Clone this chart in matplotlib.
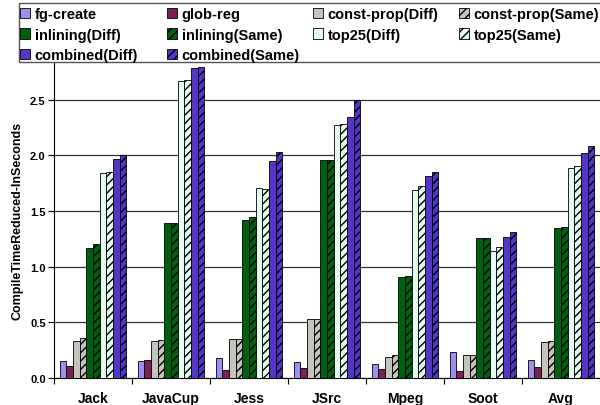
import matplotlib.pyplot as plt
from matplotlib.patches import Rectangle
import numpy as np

plt.rcParams['font.family'] = 'Liberation Sans'
plt.rcParams['font.weight'] = 'bold'
plt.rcParams['hatch.linewidth'] = 1.0

programs = ['Jack', 'JavaCup', 'Jess', 'JSrc', 'Mpeg', 'Soot', 'Avg']

fg_create = [0.15, 0.15, 0.18, 0.14, 0.13, 0.23, 0.165]
glob_reg = [0.11, 0.16, 0.075, 0.09, 0.08, 0.06, 0.10]
const_prop_diff = [0.33, 0.335, 0.35, 0.53, 0.19, 0.21, 0.32]
const_prop_same = [0.36, 0.34, 0.35, 0.53, 0.21, 0.21, 0.33]
inlining_diff = [1.17, 1.39, 1.42, 1.96, 0.91, 1.26, 1.35]
inlining_same = [1.20, 1.39, 1.45, 1.96, 0.92, 1.26, 1.36]
top25_diff = [1.84, 2.67, 1.71, 2.27, 1.69, 1.14, 1.885]
top25_same = [1.85, 2.68, 1.70, 2.28, 1.72, 1.18, 1.90]
combined_diff = [1.97, 2.78, 1.95, 2.34, 1.81, 1.27, 2.02]
combined_same = [2.00, 2.79, 2.03, 2.50, 1.85, 1.31, 2.08]

series = [
    ('fg-create', fg_create, '#9b8ff0', ''),
    ('glob-reg', glob_reg, '#7b1f55', ''),
    ('const-prop(Diff)', const_prop_diff, '#c4c4bc', ''),
    ('const-prop(Same)', const_prop_same, '#c4c4bc', '////'),
    ('inlining(Diff)', inlining_diff, '#006010', ''),
    ('inlining(Same)', inlining_same, '#006010', '////'),
    ('top25(Diff)', top25_diff, '#e2fdf0', ''),
    ('top25(Same)', top25_same, '#e2fdf0', '////'),
    ('combined(Diff)', combined_diff, '#5535c8', ''),
    ('combined(Same)', combined_same, '#5535c8', '////'),
]

W, H = 600, 406
fig = plt.figure(figsize=(W / 100, H / 100), dpi=100)
ax = fig.add_axes([0.09, 0.0665, 0.91, 0.778])

x = np.arange(len(programs))
w = 0.0855
handles = []
for i, (name, vals, color, hatch) in enumerate(series):
    b = ax.bar(x - 5 * w + (i + 0.5) * w, vals, w, color=color, hatch=hatch,
               edgecolor='black', linewidth=0.6, label=name, zorder=3)
    handles.append(b)

ax.set_xlim(-0.5, len(programs) - 0.5)
ax.set_ylim(0, 2.837)
ax.set_yticks(np.arange(0, 2.6, 0.5))
ax.set_yticklabels(['%.1f' % v for v in np.arange(0, 2.6, 0.5)], fontsize=8)
ax.yaxis.grid(True, color='#333333', linewidth=0.9, zorder=0)
ax.set_axisbelow(True)

ax.set_xticks(x)
ax.set_xticklabels(programs, fontsize=10)
ax.set_xticks(np.arange(-0.5, len(programs)), minor=True)
ax.tick_params(axis='x', which='major', length=0, pad=9)
ax.tick_params(axis='x', which='minor', length=4, width=0.8, direction='out')
ax.tick_params(axis='y', length=4, width=0.8, pad=2)

ax.set_ylabel('CompileTimeReduced-InSeconds', fontsize=9, fontweight='bold',
              labelpad=5)
for s in ['top', 'right']:
    ax.spines[s].set_visible(False)
ax.spines['left'].set_linewidth(0.8)
ax.spines['bottom'].set_linewidth(0.8)

# legend box, then one frameless legend per column (equal column widths)
fig.patches.append(Rectangle((19 / W, 1 - 63 / H), 590 / W, 59 / H,
                             transform=fig.transFigure, facecolor='white',
                             edgecolor='#555555', linewidth=1.0, zorder=5))
columns = [[0, 4, 8], [1, 5, 9], [2, 6], [3, 7]]
col_x = [20, 167, 313, 459]
for cx, idx in zip(col_x, columns):
    leg = fig.legend([handles[k] for k in idx], [series[k][0] for k in idx],
                     loc='upper left', bbox_to_anchor=(cx / W, 1 - 8 / H),
                     fontsize=10.5, frameon=False,
                     handlelength=0.7, handleheight=0.7, handletextpad=0.3,
                     labelspacing=0.45, borderpad=0.0, borderaxespad=0)
    leg.set_zorder(6)

fig.savefig('out.png', dpi=100)
